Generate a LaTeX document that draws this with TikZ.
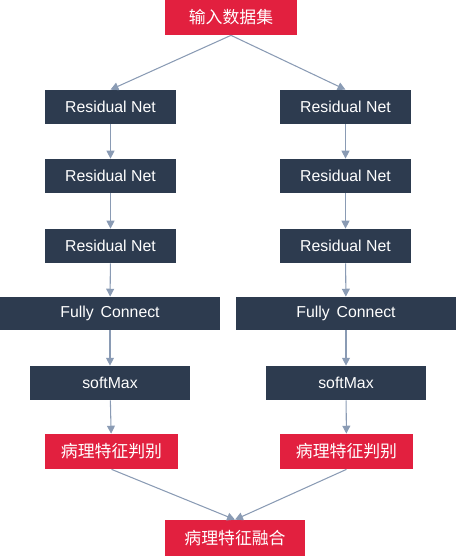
\documentclass[tikz,border=0pt]{standalone}
\usepackage{fontspec}
\setmainfont{Liberation Sans}
\newfontfamily\cjk{Noto Sans CJK SC}
\usepackage{xcolor}
\usepackage{tikz}
\usetikzlibrary{arrows.meta}
\definecolor{netblue}{HTML}{2D3B4F}
\definecolor{labred}{HTML}{E2203F}
\definecolor{linkgray}{HTML}{8A9BB4}

\begin{document}
\begin{tikzpicture}[x=0.02cm,y=-0.02cm,font=\fontsize{9}{11}\selectfont,
  netbox/.style={fill=netblue,text=white,inner sep=0pt,minimum height=0.68cm},
  redbox/.style={fill=labred,text=white,inner sep=0pt,minimum height=0.7cm,font=\fontsize{9.6}{11}\selectfont\cjk},
  link/.style={draw=linkgray,line width=0.6pt,-{Triangle[length=4.5pt,width=4.5pt]}}]
  \useasboundingbox (0,0) rectangle (456,558);
  % input
  \node[redbox,minimum width=2.64cm] (in) at (231,17.5) {输入数据集};
  % left branch
  \node[netbox,minimum width=2.62cm] (r1L) at (110.5,107) {Residual Net};
  \node[netbox,minimum width=2.62cm] (r2L) at (110.5,176) {Residual Net};
  \node[netbox,minimum width=2.62cm] (r3L) at (110.5,246) {Residual Net};
  \node[netbox,minimum width=4.4cm,minimum height=0.66cm] (fcL) at (110,313.5) {Fully\ \,Connect};
  \node[netbox,minimum width=3.2cm] (smL) at (110,383) {softMax};
  \node[redbox,minimum width=2.66cm] (pjL) at (111.5,451.5) {病理特征判别};
  % right branch
  \node[netbox,minimum width=2.62cm] (r1R) at (345.5,107) {Residual Net};
  \node[netbox,minimum width=2.62cm] (r2R) at (345.5,176) {Residual Net};
  \node[netbox,minimum width=2.62cm] (r3R) at (345.5,246) {Residual Net};
  \node[netbox,minimum width=4.4cm,minimum height=0.66cm] (fcR) at (346,313.5) {Fully\ \,Connect};
  \node[netbox,minimum width=3.2cm] (smR) at (346,383) {softMax};
  \node[redbox,minimum width=2.66cm] (pjR) at (346.5,451.5) {病理特征判别};
  % output
  \node[redbox,minimum width=2.8cm,minimum height=0.72cm] (out) at (235,538) {病理特征融合};
  % links
  \draw[link] (in.south) -- (r1L.north);
  \draw[link] (in.south) -- (r1R.north);
  \draw[link] (r1L) -- (r2L);
  \draw[link] (r2L) -- (r3L);
  \draw[link] (r3L) -- (fcL);
  \draw[link] (fcL) -- (smL);
  \draw[link] (smL) -- (pjL);
  \draw[link] (r1R) -- (r2R);
  \draw[link] (r2R) -- (r3R);
  \draw[link] (r3R) -- (fcR);
  \draw[link] (fcR) -- (smR);
  \draw[link] (smR) -- (pjR);
  \draw[link] (pjL.south) -- (out.north);
  \draw[link] (pjR.south) -- (out.north);
\end{tikzpicture}
\end{document}
